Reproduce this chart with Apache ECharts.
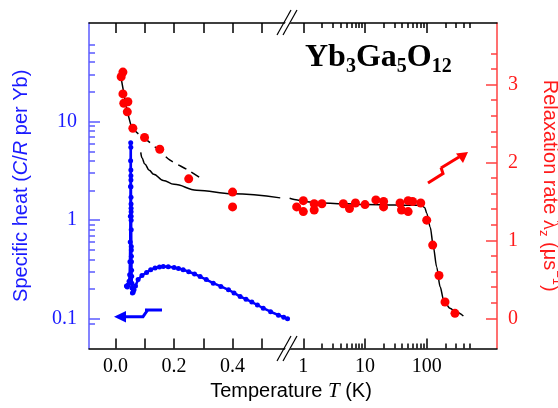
<!DOCTYPE html>
<html>
<head>
<meta charset="utf-8">
<script src="https://cdn.jsdelivr.net/npm/echarts@6/dist/echarts.min.js"></script>
<style>
  html, body { margin: 0; padding: 0; background: #fff; }
  #chart { width: 558px; height: 408px; }
</style>
</head>
<body>
<div id="chart"></div>
<script>
// specific heat (blue), linear T part only
const heatT = [0.037, 0.040, 0.043, 0.046, 0.048, 0.049, 0.050, 0.0505, 0.051, 0.0513, 0.0516,
  0.052, 0.0522, 0.0523, 0.0524, 0.0525, 0.0527, 0.0528, 0.0529, 0.053, 0.0531, 0.0532, 0.0534,
  0.0537, 0.0538, 0.054, 0.0542, 0.0546, 0.055, 0.0555, 0.056, 0.0575,
  0.060, 0.063, 0.068, 0.077, 0.09, 0.106, 0.12, 0.135, 0.15, 0.163, 0.18, 0.2, 0.215, 0.231,
  0.25, 0.27, 0.289, 0.31, 0.334, 0.36, 0.386, 0.405, 0.426, 0.446, 0.466, 0.485, 0.505, 0.53,
  0.557, 0.575, 0.588];
const heatC = [0.215, 0.21, 0.22, 0.24, 0.28, 0.38, 0.6, 1.1, 2.2, 4.0, 6.1,
  5.5, 3.23, 2.83, 2.56, 2.19, 1.71, 1.46, 1.32, 1.22, 1.10, 1.0, 0.80,
  0.54, 0.50, 0.43, 0.38, 0.31, 0.27, 0.23, 0.205, 0.183,
  0.186, 0.197, 0.215, 0.25, 0.275, 0.295, 0.315, 0.328, 0.336, 0.34, 0.338, 0.332, 0.324, 0.315,
  0.3, 0.285, 0.268, 0.25, 0.23, 0.213, 0.197, 0.183, 0.168, 0.158, 0.148, 0.138, 0.128, 0.118,
  0.109, 0.104, 0.1];

// relaxation rate (red) below the break
const rateLowT = [0.019, 0.025, 0.025, 0.028, 0.042, 0.040, 0.059, 0.099, 0.151, 0.25, 0.40, 0.40];
const rateLow = [3.10, 3.16, 2.88, 2.76, 2.78, 2.65, 2.44, 2.32, 2.17, 1.79, 1.62, 1.43];
// relaxation rate above the break
const rateHighT = [0.78, 1.0, 1.0, 1.5, 1.5, 2.0, 4.45, 5.6, 7.0, 10.0, 15, 20, 20, 37, 39, 50, 50, 59, 80, 100, 125, 158, 198, 287];
const rateHigh = [1.43, 1.51, 1.37, 1.47, 1.39, 1.47, 1.47, 1.41, 1.48, 1.46, 1.52, 1.50, 1.43, 1.48, 1.39, 1.51, 1.37, 1.50, 1.48, 1.26, 0.94, 0.55, 0.21, 0.064];

// fit curves (black)
const fitTopT = [0.019, 0.03, 0.04, 0.053];
const fitTop = [3.08, 2.85, 2.66, 2.47];
const fitDashT = [0.055, 0.083, 0.1, 0.15, 0.186, 0.249, 0.295];
const fitDash = [2.45, 2.35, 2.31, 2.15, 2.03, 1.90, 1.79];
const fitLowT = [0.086, 0.09, 0.1, 0.115, 0.13, 0.163, 0.2, 0.277, 0.4, 0.563];
const fitLow = [2.13, 2.06, 1.98, 1.90, 1.85, 1.77, 1.72, 1.645, 1.60, 1.546];
const fitHighT = [0.6, 0.8, 1, 2, 5, 10, 30, 60, 83, 93, 100, 114, 128, 145, 165, 188, 238, 300, 393];
const fitHigh = [1.54, 1.52, 1.50, 1.48, 1.47, 1.46, 1.455, 1.45, 1.45, 1.42, 1.35, 1.17, 0.92, 0.66, 0.405, 0.235, 0.128, 0.08, 0.03];

// ticks
const linTicks = [0, 0.1, 0.2, 0.3, 0.4, 0.5];
const linLabels = [0, 0.2, 0.4];
const logXMajor = [1, 10, 100];
const logXMinor = [2, 3, 4, 5, 6, 7, 8, 9, 20, 30, 40, 50, 60, 70, 80, 90, 200, 300, 400, 500];
const heatMajor = [0.1, 1, 10];
const heatMinor = [0.09, 0.2, 0.3, 0.4, 0.5, 0.6, 0.7, 0.8, 0.9, 2, 3, 4, 5, 6, 7, 8, 9, 20, 30, 40, 50, 60];
const rateMajor = [0, 1, 2, 3];
const rateMinor = [0.2, 0.4, 0.6, 0.8, 1.2, 1.4, 1.6, 1.8, 2.2, 2.4, 2.6, 2.8, 3.2, 3.4];

const zip = (a, b) => a.map((v, i) => [v, b[i]]);

const BLUE = "#0000ff";
const RED = "#ff0000";
const serif = "Liberation Serif";
const sans = "Liberation Sans";

const chart = echarts.init(document.getElementById("chart"));

function xAx(grid, type, min, max, pos, ticks, len, labels) {
  return {
    type: type, gridIndex: grid, position: pos, min: min, max: max,
    axisLine: { show: true, onZero: false, lineStyle: { color: "#000", width: 1.5 } },
    axisTick: { show: true, inside: true, length: len, customValues: ticks, lineStyle: { color: "#000", width: 1.5 } },
    axisLabel: labels ? {
      show: true, customValues: labels, margin: 8, color: "#000",
      fontFamily: serif, fontSize: 20,
      formatter: type === "value" ? (v => v.toFixed(1)) : (v => String(v))
    } : { show: false },
    splitLine: { show: false }
  };
}

const option = {
  animation: false,
  grid: [
    { left: 89, top: 23, width: 200, height: 325.5, outerBoundsMode: "none", containLabel: false },
    { left: 289, top: 23, width: 208, height: 325.5, outerBoundsMode: "none", containLabel: false }
  ],
  xAxis: [
    xAx(0, "value", -0.091, 0.593, "bottom", linTicks, 10, linLabels),
    xAx(0, "value", -0.091, 0.593, "top", linTicks, 10, null),
    xAx(1, "log", 0.586, 1378, "bottom", logXMajor, 10, logXMajor),
    Object.assign(xAx(1, "log", 0.586, 1378, "bottom", logXMinor, 5, null), { axisLine: { show: false, onZero: false } }),
    xAx(1, "log", 0.586, 1378, "top", logXMajor, 10, null),
    Object.assign(xAx(1, "log", 0.586, 1378, "top", logXMinor, 5, null), { axisLine: { show: false, onZero: false } })
  ],
  yAxis: [
    {
      type: "log", gridIndex: 0, position: "left", min: 0.05, max: 100,
      axisLine: { show: true, onZero: false, lineStyle: { color: "#5b5bff", width: 1.5 } },
      axisTick: { inside: true, length: 11, customValues: heatMajor, lineStyle: { color: "#5b5bff", width: 1.5 } },
      axisLabel: { customValues: heatMajor, color: "#1a1aff", fontFamily: serif, fontSize: 20, margin: 12 },
      splitLine: { show: false },
      name: "{n|Specific heat (}{i|C}{n|/}{i|R}{n| per Yb)}", nameLocation: "middle", nameGap: 58,
      nameTextStyle: {
        rich: {
          n: { fontFamily: sans, fontSize: 20, color: "#1a1aff" },
          i: { fontFamily: sans, fontStyle: "italic", fontSize: 20, color: "#1a1aff" }
        }
      }
    },
    {
      type: "log", gridIndex: 0, position: "left", min: 0.05, max: 100,
      axisLine: { show: false, onZero: false },
      axisTick: { inside: true, length: 6, customValues: heatMinor, lineStyle: { color: "#5b5bff", width: 1.5 } },
      axisLabel: { show: false }, splitLine: { show: false }
    },
    {
      type: "value", gridIndex: 0, position: "right", min: -0.387, max: 3.79, show: false,
      axisLine: { onZero: false }
    },
    {
      type: "value", gridIndex: 1, position: "right", min: -0.387, max: 3.79,
      axisLine: { show: true, onZero: false, lineStyle: { color: "#ff4040", width: 1.5 } },
      axisTick: { inside: true, length: 11, customValues: rateMajor, lineStyle: { color: "#ff4040", width: 1.5 } },
      axisLabel: { customValues: rateMajor, color: "#ff1a1a", fontFamily: serif, fontSize: 20, margin: 11 },
      splitLine: { show: false },
      name: "{n|Relaxation rate }{g|λ}{s|z}{n| (μs}{p|−1}{n|)}", nameLocation: "middle", nameGap: 40, nameRotate: -90,
      nameTextStyle: {
        rich: {
          n: { fontFamily: sans, fontSize: 20, color: "#ff1a1a", lineHeight: 26 },
          g: { fontFamily: serif, fontSize: 21, color: "#ff1a1a", lineHeight: 26 },
          s: { fontFamily: sans, fontSize: 13, color: "#ff1a1a", verticalAlign: "bottom", lineHeight: 16 },
          p: { fontFamily: sans, fontSize: 13, color: "#ff1a1a", verticalAlign: "top", lineHeight: 16 }
        }
      }
    },
    {
      type: "value", gridIndex: 1, position: "right", min: -0.387, max: 3.79,
      axisLine: { show: false, onZero: false },
      axisTick: { inside: true, length: 6, customValues: rateMinor, lineStyle: { color: "#ff4040", width: 1.5 } },
      axisLabel: { show: false }, splitLine: { show: false }
    }
  ],
  series: [
    {
      type: "line", xAxisIndex: 0, yAxisIndex: 2, data: zip(fitTopT, fitTop),
      symbol: "none", lineStyle: { color: "#000", width: 1.5 }, smooth: 0.3, z: 1
    },
    {
      type: "line", xAxisIndex: 0, yAxisIndex: 2, data: zip(fitDashT, fitDash),
      symbol: "none", lineStyle: { color: "#000", width: 1.5, type: [9, 6] }, smooth: 0.3, z: 1
    },
    {
      type: "line", xAxisIndex: 0, yAxisIndex: 2, data: zip(fitLowT, fitLow),
      symbol: "none", lineStyle: { color: "#000", width: 1.5 }, smooth: 0.4, smoothMonotone: "x", z: 1
    },
    {
      type: "line", xAxisIndex: 2, yAxisIndex: 3, data: zip(fitHighT, fitHigh),
      symbol: "none", lineStyle: { color: "#000", width: 1.5 }, smooth: 0.3, smoothMonotone: "x", z: 1
    },
    {
      type: "line", xAxisIndex: 0, yAxisIndex: 0, data: zip(heatT, heatC),
      symbol: "circle", symbolSize: 5, itemStyle: { color: BLUE, opacity: 1 },
      lineStyle: { color: BLUE, width: 2.5 }, z: 3
    },
    {
      type: "scatter", xAxisIndex: 0, yAxisIndex: 2, data: zip(rateLowT, rateLow),
      symbolSize: 9, itemStyle: { color: RED, opacity: 1 }, z: 4
    },
    {
      type: "scatter", xAxisIndex: 2, yAxisIndex: 3, data: zip(rateHighT, rateHigh),
      symbolSize: 9, itemStyle: { color: RED, opacity: 1 }, z: 4
    }
  ],
  graphic: [
    // x axis title, centred under the whole broken axis
    {
      type: "text", x: 291, y: 391, z: 60,
      style: {
        text: "{n|Temperature }{i|T}{n| (K)}", align: "center", verticalAlign: "middle",
        rich: {
          n: { fontFamily: sans, fontSize: 20, fill: "#000" },
          i: { fontFamily: serif, fontStyle: "italic", fontSize: 21, fill: "#000" }
        }
      }
    },
    // axis breaks
    { type: "polygon", shape: { points: [[279, 361], [292, 336], [297, 336], [284, 361]] }, style: { fill: "#fff" }, z: 100 },
    { type: "line", shape: { x1: 277, y1: 361, x2: 291, y2: 336 }, style: { stroke: "#000", lineWidth: 1.2 }, z: 101 },
    { type: "line", shape: { x1: 283, y1: 361, x2: 297, y2: 336 }, style: { stroke: "#000", lineWidth: 1.2 }, z: 101 },
    { type: "polygon", shape: { points: [[279, 35], [292, 10], [297, 10], [284, 35]] }, style: { fill: "#fff" }, z: 100 },
    { type: "line", shape: { x1: 277, y1: 35, x2: 291, y2: 10 }, style: { stroke: "#000", lineWidth: 1.2 }, z: 101 },
    { type: "line", shape: { x1: 283, y1: 35, x2: 297, y2: 10 }, style: { stroke: "#000", lineWidth: 1.2 }, z: 101 },
    // blue arrow
    { type: "polyline", shape: { points: [[122, 316.7], [143, 316.7], [148, 309.5]] }, style: { stroke: BLUE, lineWidth: 3, fill: null }, z: 50 },
    { type: "line", shape: { x1: 145, y1: 310, x2: 162, y2: 310 }, style: { stroke: BLUE, lineWidth: 3 }, z: 50 },
    { type: "polygon", shape: { points: [[114, 316.7], [126, 311], [126, 322.4]] }, style: { fill: BLUE }, z: 50 },
    // red arrow
    { type: "polyline", shape: { points: [[428, 183], [443, 173.5], [441, 167.5]] }, style: { stroke: RED, lineWidth: 3, fill: null }, z: 50 },
    { type: "line", shape: { x1: 441, y1: 168, x2: 459, y2: 157 }, style: { stroke: RED, lineWidth: 3 }, z: 50 },
    { type: "polygon", shape: { points: [[468, 152], [456, 153.5], [463, 163]] }, style: { fill: RED }, z: 50 },
    // compound label
    {
      type: "text", left: 305, top: 42, z: 60,
      style: {
        text: "{m|Yb}{s|3}{m|Ga}{s|5}{m|O}{s|12}",
        rich: {
          m: { fontFamily: serif, fontWeight: "bold", fontSize: 32, lineHeight: 38, fill: "#000", verticalAlign: "middle" },
          s: { fontFamily: serif, fontWeight: "bold", fontSize: 20, lineHeight: 20, fill: "#000", verticalAlign: "bottom" }
        }
      }
    }
  ]
};
chart.setOption(option);
</script>
</body>
</html>
